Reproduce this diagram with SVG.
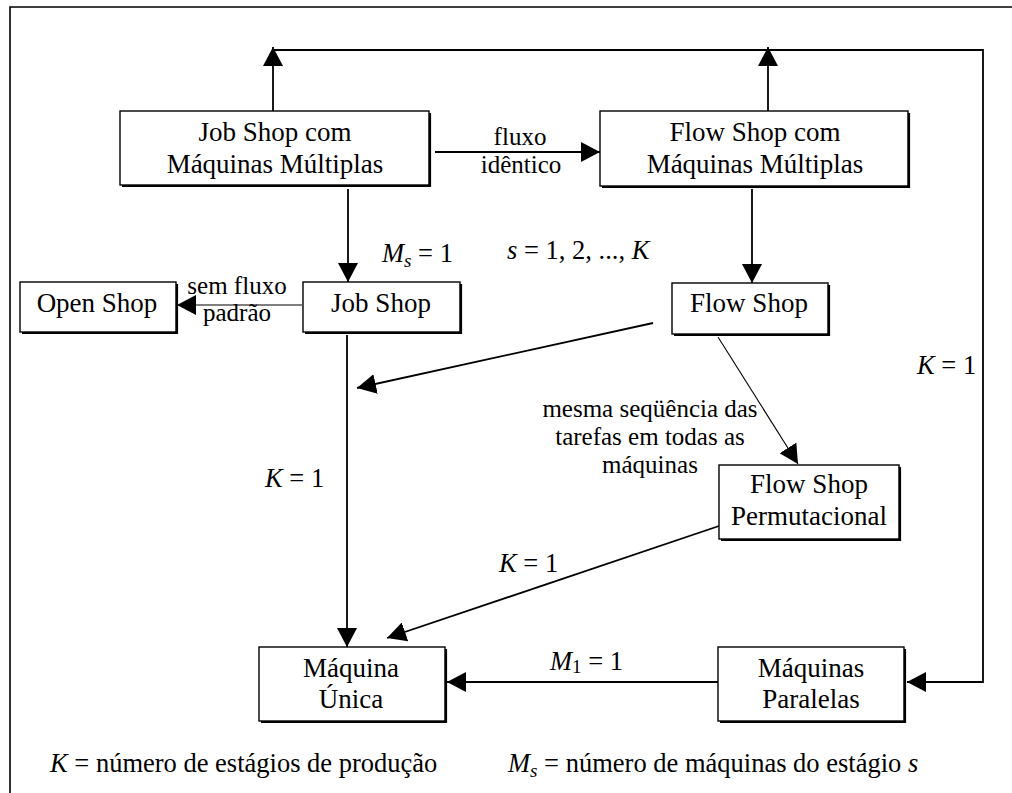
<svg xmlns="http://www.w3.org/2000/svg" width="1012" height="793" viewBox="0 0 1012 793" font-family="Liberation Serif, Times New Roman, serif">
<style>
.n{font-size:27px;text-anchor:middle;font-family:Liberation Serif, serif}
.l{font-size:25px;text-anchor:middle;font-family:Liberation Serif, serif}
.m{font-size:26.5px;font-family:Liberation Serif, serif}
.i{font-style:italic}
.box{fill:#fff;stroke:#000;stroke-width:1.4}
.sh{fill:none;stroke:#000;stroke-width:2.2}
.c{fill:none;stroke:#000;stroke-width:1.8}
.t{fill:none;stroke:#000;stroke-width:1.1}
</style>
<defs>
<marker id="ah" viewBox="0 0 19 20" refX="19" refY="10" markerWidth="19" markerHeight="20" markerUnits="userSpaceOnUse" orient="auto">
<path d="M0,0 L19,10 L0,20 Z" fill="#000"/>
</marker>
</defs>
<rect x="0" y="0" width="1012" height="793" fill="#fff"/>
<path d="M10,793 V7 H1012" fill="none" stroke="#000" stroke-width="1.6"/>
<g id="connectors">
<path class="c" d="M273,111 V47" marker-end="url(#ah)"/>
<path class="c" d="M768,111 V47" marker-end="url(#ah)"/>
<path class="c" d="M273,50 H983 V682 H907" marker-end="url(#ah)"/>
<path class="c" d="M435,152 H600" marker-end="url(#ah)"/>
<path class="c" d="M348,189 V282" marker-end="url(#ah)"/>
<path class="t" d="M302,305 H177" marker-end="url(#ah)"/>
<path class="c" d="M752,189 V283" marker-end="url(#ah)"/>
<path class="c" d="M653,323 L357,388" marker-end="url(#ah)"/>
<path class="t" d="M718,337 L798,464" marker-end="url(#ah)"/>
<path class="c" d="M347,335 V647" marker-end="url(#ah)"/>
<path class="c" d="M719,526 L387,638" marker-end="url(#ah)"/>
<path class="c" d="M718,682 H447" marker-end="url(#ah)"/>
</g>
<g id="n_jsmm">
<rect class="box" x="120" y="111" width="309" height="74"/>
<path class="sh" d="M122,186 H430 V113"/>
<text class="n" x="275" y="141">Job Shop com</text>
<text class="n" x="275" y="173">Máquinas Múltiplas</text>
</g>
<g id="n_fsmm">
<rect class="box" x="600" y="111" width="308" height="75"/>
<path class="sh" d="M602,187 H909 V113"/>
<text class="n" x="755" y="141">Flow Shop com</text>
<text class="n" x="755" y="173">Máquinas Múltiplas</text>
</g>
<g id="n_open">
<rect class="box" x="20" y="282" width="156" height="50"/>
<path class="sh" d="M22,333 H177 V284"/>
<text class="n" x="97" y="312">Open Shop</text>
</g>
<g id="n_job">
<rect class="box" x="303" y="282" width="157" height="50"/>
<path class="sh" d="M305,333 H461 V284"/>
<text class="n" x="381" y="312">Job Shop</text>
</g>
<g id="n_flow">
<rect class="box" x="672" y="283" width="156" height="51"/>
<path class="sh" d="M674,335 H829 V285"/>
<text class="n" x="749" y="312">Flow Shop</text>
</g>
<g id="n_perm">
<rect class="box" x="719" y="465" width="180" height="74"/>
<path class="sh" d="M721,540 H900 V467"/>
<text class="n" x="809" y="493">Flow Shop</text>
<text class="n" x="809" y="525">Permutacional</text>
</g>
<g id="n_unica">
<rect class="box" x="259" y="647" width="186" height="74"/>
<path class="sh" d="M261,722 H446 V649"/>
<text class="n" x="351" y="677">Máquina</text>
<text class="n" x="351" y="708">Única</text>
</g>
<g id="n_paralelas">
<rect class="box" x="718" y="647" width="186" height="74"/>
<path class="sh" d="M720,722 H905 V649"/>
<text class="n" x="811" y="677">Máquinas</text>
<text class="n" x="811" y="708">Paralelas</text>
</g>
<g id="labels">
<text class="l" x="520" y="145">fluxo</text>
<text class="l" x="521" y="173">idêntico</text>
<text class="l" x="237" y="294">sem fluxo</text>
<text class="l" x="237" y="321">padrão</text>
<text class="m" x="382" y="262"><tspan class="i">M</tspan><tspan class="i" font-size="19" dy="5">s</tspan><tspan dy="-5"> = 1</tspan></text>
<text class="m" x="507" y="259"><tspan class="i">s</tspan> = 1, 2, ..., <tspan class="i">K</tspan></text>
<text class="l" x="650" y="417">mesma seqüência das</text>
<text class="l" x="650" y="445">tarefas em todas as</text>
<text class="l" x="650" y="473">máquinas</text>
<text class="m" x="265" y="487"><tspan class="i">K</tspan> = 1</text>
<text class="m" x="499" y="572"><tspan class="i">K</tspan> = 1</text>
<text class="m" x="917" y="374"><tspan class="i">K</tspan> = 1</text>
<text class="m" x="550" y="670"><tspan class="i">M</tspan><tspan font-size="19" dy="3">1</tspan><tspan dy="-3"> = 1</tspan></text>
<text class="m" x="50" y="772" font-size="27.5"><tspan class="i">K</tspan> = número de estágios de produção</text>
<text class="m" x="508" y="772" font-size="27.5"><tspan class="i">M</tspan><tspan class="i" font-size="19" dy="5">s</tspan><tspan dy="-5"> = número de máquinas do estágio </tspan><tspan class="i">s</tspan></text>
</g>
</svg>
